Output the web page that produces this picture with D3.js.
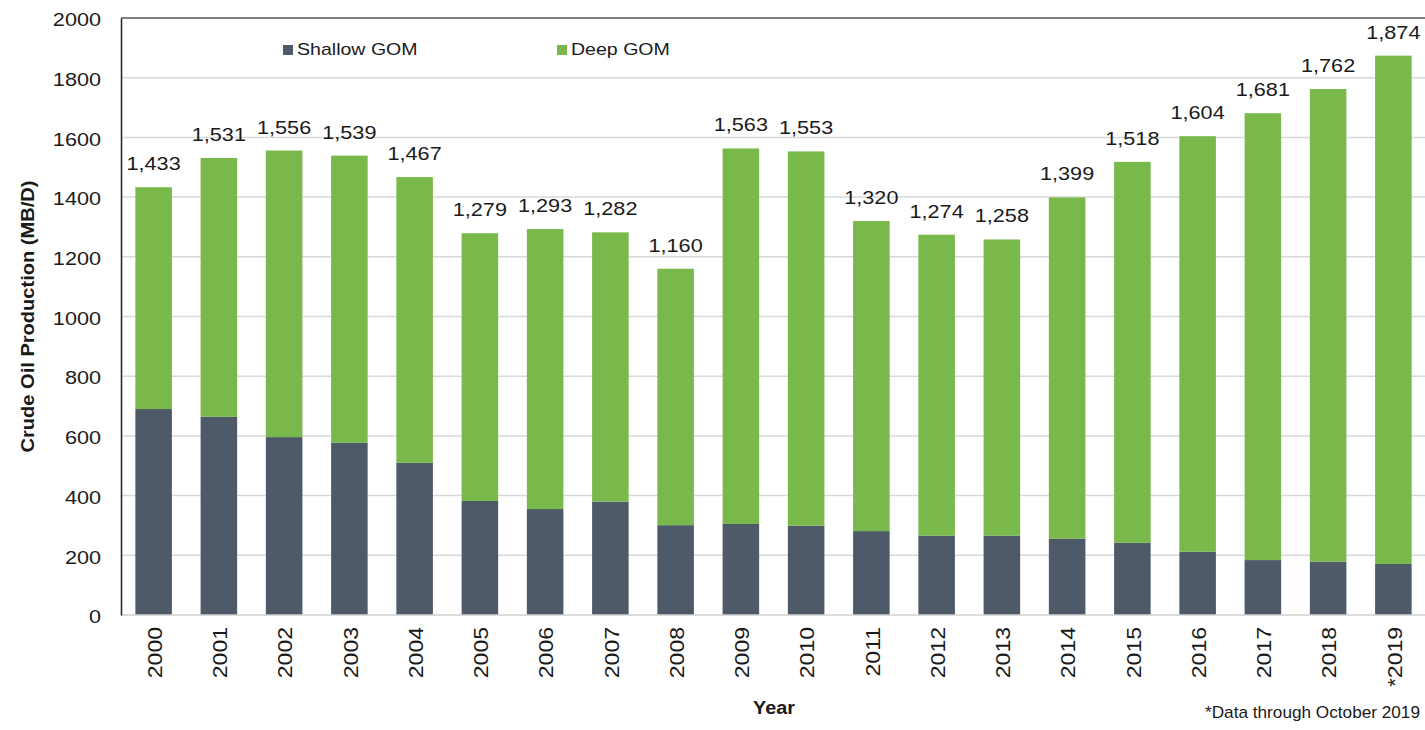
<!DOCTYPE html>
<html>
<head>
<meta charset="utf-8">
<script src="https://cdn.jsdelivr.net/npm/d3@7"></script>
<style>
  html, body { margin: 0; padding: 0; background: #fff; }
  svg { display: block; }
  text { font-family: "Liberation Sans", Arial, sans-serif; fill: #1a1a1a; }
</style>
</head>
<body>
<svg id="chart" width="1425" height="730"></svg>
<script>
const years = ["2000","2001","2002","2003","2004","2005","2006","2007","2008","2009",
               "2010","2011","2012","2013","2014","2015","2016","2017","2018","*2019"];
const totals = [1433,1531,1556,1539,1467,1279,1293,1282,1160,1563,
                1553,1320,1274,1258,1399,1518,1604,1681,1762,1874];
const shallow = [690,664,596,577,510,382,355,380,301,305,
                 299,281,266,266,256,242,212,184,179,171];
const deep = totals.map((t, i) => t - shallow[i]);
const yTicks = [0,200,400,600,800,1000,1200,1400,1600,1800,2000];
const seriesNames = ["Shallow GOM", "Deep GOM"];
const colors = ["#4e5a67", "#79b84a"];

(function () {
const svg = d3.select("#chart");
const mLeft = 121, mRight = 1426, mTop = 18, mBottom = 615;

function stretch(sel, factor) {
  sel.each(function () {
    const L = this.getComputedTextLength();
    d3.select(this).attr("textLength", L * factor).attr("lengthAdjust", "spacingAndGlyphs");
  });
}

const x = d3.scaleBand().domain(years).range([mLeft, mRight]).paddingInner(0.44).paddingOuter(0.22);
const y = d3.scaleLinear().domain([0, 2000]).range([mBottom, mTop]);

// gridlines
svg.append("g").selectAll("line").data(yTicks.slice(1, -1)).join("line")
  .attr("x1", mLeft).attr("x2", 1425)
  .attr("y1", d => y(d)).attr("y2", d => y(d))
  .attr("stroke", "#d9d9d9").attr("stroke-width", 1.5);

// top border
svg.append("line").attr("x1", mLeft).attr("x2", 1425).attr("y1", y(2000)).attr("y2", y(2000))
  .attr("stroke", "#555").attr("stroke-width", 1.5);

const rows = years.map((yr, i) => ({year: yr, shallow: shallow[i], deep: deep[i], total: totals[i]}));
const stack = d3.stack().keys(["shallow", "deep"])(rows);

svg.append("g").selectAll("g").data(stack).join("g")
  .attr("fill", (d, i) => colors[i])
  .selectAll("rect").data(d => d).join("rect")
  .attr("x", d => x(d.data.year))
  .attr("width", x.bandwidth())
  .attr("y", d => y(d[1]))
  .attr("height", d => y(d[0]) - y(d[1]));

// bottom axis line
svg.append("line").attr("x1", mLeft).attr("x2", 1425).attr("y1", mBottom).attr("y2", mBottom)
  .attr("stroke", "#d0d0d0").attr("stroke-width", 1.5);

// y axis
const yAxis = d3.axisLeft(y).tickValues(yTicks).tickSize(0).tickPadding(20).tickFormat(d3.format("d"));
const gy = svg.append("g").attr("transform", `translate(${mLeft},0)`).call(yAxis);
gy.select(".domain").attr("stroke", "#222").attr("stroke-width", 1.5);
gy.selectAll("text").attr("font-size", 18.5).attr("fill", "#1a1a1a")
  .attr("font-family", "'Liberation Sans', Arial, sans-serif").attr("dy", "0.42em");
stretch(gy.selectAll("text"), 1.17);

// x axis
const xAxis = d3.axisBottom(x).tickSize(0).tickPadding(0);
const gx = svg.append("g").attr("transform", `translate(0,${mBottom})`).call(xAxis);
gx.select(".domain").remove();
gx.selectAll("text")
  .attr("font-size", 20).attr("fill", "#1a1a1a")
  .attr("font-family", "'Liberation Sans', Arial, sans-serif")
  .attr("text-anchor", "end")
  .attr("dy", "0.36em")
  .attr("transform", "translate(1,12) rotate(-90)")
  .attr("x", 0).attr("y", 0);
stretch(gx.selectAll("text"), 1.15);

// value labels
const vl = svg.append("g").selectAll("text").data(rows).join("text")
  .attr("x", d => x(d.year) + x.bandwidth() / 2)
  .attr("y", d => y(d.total) - 17)
  .attr("text-anchor", "middle")
  .attr("font-size", 18.5)
  .text(d => d3.format(",")(d.total));
stretch(vl, 1.17);

// legend
const legendX = [283, 557];
seriesNames.forEach((name, i) => {
  svg.append("rect").attr("x", legendX[i]).attr("y", 45).attr("width", 10).attr("height", 10).attr("fill", colors[i]);
  const t = svg.append("text").attr("x", legendX[i] + 14).attr("y", 55).attr("font-size", 17).text(name);
  stretch(t, 1.15);
});

// y title
svg.append("text")
  .attr("transform", `translate(34,${(mTop + mBottom) / 2}) rotate(-90)`)
  .attr("text-anchor", "middle").attr("font-size", 18).attr("font-weight", "bold")
  .attr("textLength", 272).attr("lengthAdjust", "spacingAndGlyphs")
  .text("Crude Oil Production (MB/D)");

// x title
const yt = svg.append("text").attr("x", 774).attr("y", 714).attr("text-anchor", "middle")
  .attr("font-size", 18).attr("font-weight", "bold").text("Year");
stretch(yt, 1.1);

// footnote
svg.append("text").attr("x", 1420).attr("y", 718).attr("text-anchor", "end")
  .attr("font-size", 17).attr("font-family", "'Liberation Sans Narrow', 'Liberation Sans', Arial, sans-serif")
  .attr("textLength", 215).attr("lengthAdjust", "spacingAndGlyphs")
  .text("*Data through October 2019");
})();
</script>
</body>
</html>
